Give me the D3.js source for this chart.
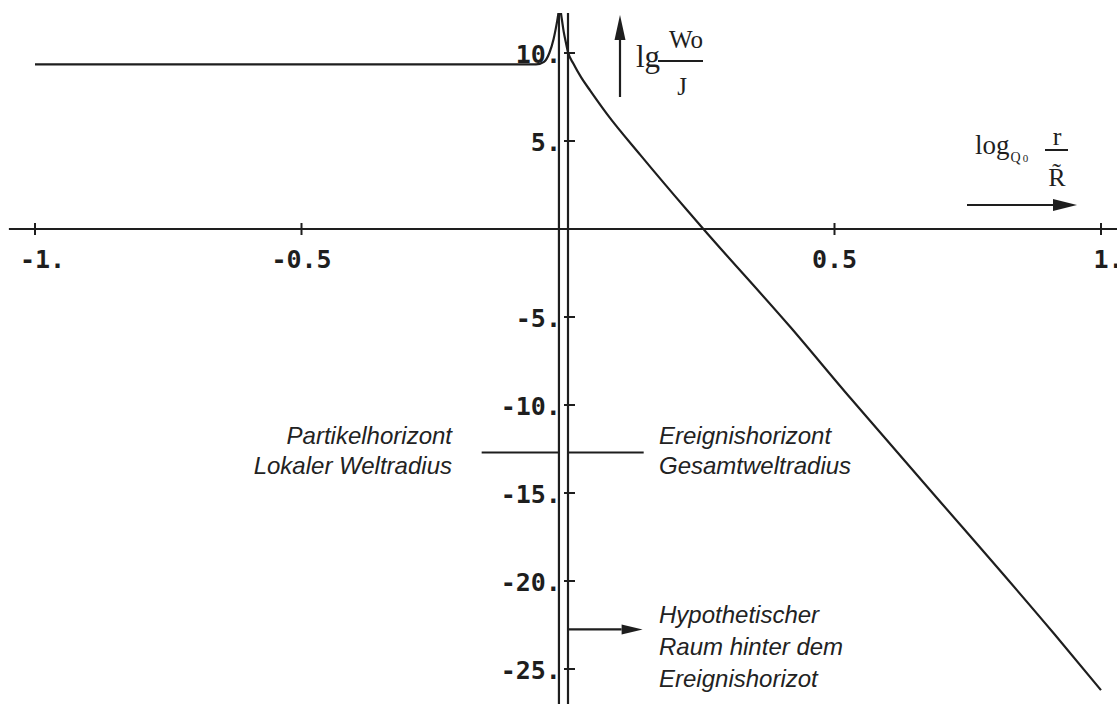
<!DOCTYPE html>
<html>
<head>
<meta charset="utf-8">
<script src="https://cdn.jsdelivr.net/npm/d3@7/dist/d3.min.js"></script>
<style>
  html, body { margin: 0; padding: 0; background: #fff; }
  svg { display: block; }
</style>
</head>
<body>
<svg id="chart" width="1117" height="704"></svg>
<script>
// ---- data ----
const xTicks = [-1, -0.5, 0.5, 1];
const xTickLabels = ["-1.", "-0.5", "0.5", "1."];
const yTicks = [10, 5, -5, -10, -15, -20, -25];
const yTickLabels = ["10.", "5.", "-5.", "-10.", "-15.", "-20.", "-25."];

const curveX = [-1, -0.06, -0.045, -0.035, -0.027, -0.021, -0.017, -0.0155, -0.012, -0.008, -0.004, 0, 0.01, 0.025, 0.042, 0.074, 0.136, 0.224, 0.254, 0.418, 0.531, 0.587, 0.667, 0.912, 1.0];
const curveY = [9.35, 9.35, 9.5, 10.0, 10.8, 11.7, 12.4, 12.6, 12.0, 11.2, 10.6, 10.05, 9.4, 8.6, 7.85, 6.5, 4.2, 1.05, 0.0, -5.6, -9.65, -11.6, -14.4, -23.0, -26.2];

const horizonLeftX = -0.017;     // Partikelhorizont line
const markerY = -12.7;           // horizontal marker level
const markerLeft = [-0.162, -0.017];
const markerRight = [0, 0.142];
const arrowY = -22.75;           // "Hypothetischer Raum" arrow level
const arrowRight = [0, 0.14];

const labelsLeft = ["Partikelhorizont", "Lokaler Weltradius"];
const labelsRight = ["Ereignishorizont", "Gesamtweltradius"];
const labelsHypo = ["Hypothetischer", "Raum hinter dem", "Ereignishorizot"];

// ---- scales ----
const svg = d3.select("#chart");
const x = d3.scaleLinear().domain([-1, 1]).range([35, 1101]);
const y = d3.scaleLinear().domain([0, 10]).range([229, 53]);
const yTop = 12.27, yBottom = -27;
const ink = "#1e1e1e";

svg.append("defs").append("clipPath").attr("id", "plotclip")
  .append("rect").attr("x", 0).attr("y", y(yTop)).attr("width", 1117).attr("height", y(yBottom) - y(yTop));

// ---- x axis ----
svg.append("line").attr("x1", x(-1.049)).attr("x2", 1117).attr("y1", y(0)).attr("y2", y(0))
  .attr("stroke", ink).attr("stroke-width", 2.2);
svg.selectAll(".xt").data(xTicks).enter().append("line")
  .attr("x1", d => x(d)).attr("x2", d => x(d)).attr("y1", y(0) - 6).attr("y2", y(0) + 6)
  .attr("stroke", ink).attr("stroke-width", 2);
svg.selectAll(".xl").data(xTicks).enter().append("text")
  .attr("x", d => x(d)).attr("y", y(0) + 39)
  .attr("dx", (d, i) => xTickLabels[i].endsWith(".") ? "0.3em" : "0")
  .attr("text-anchor", "middle")
  .attr("font-family", "DejaVu Sans Mono").attr("font-weight", "bold").attr("font-size", 25)
  .attr("fill", ink)
  .text((d, i) => xTickLabels[i]);

// ---- y axis (double vertical lines) ----
svg.append("line").attr("x1", x(0)).attr("x2", x(0)).attr("y1", y(yTop)).attr("y2", y(yBottom))
  .attr("stroke", ink).attr("stroke-width", 2.2);
svg.append("line").attr("x1", x(horizonLeftX)).attr("x2", x(horizonLeftX)).attr("y1", y(yTop)).attr("y2", y(yBottom))
  .attr("stroke", ink).attr("stroke-width", 2.2);
svg.selectAll(".yt").data(yTicks).enter().append("line")
  .attr("x1", x(0) - 4).attr("x2", x(0) + 7).attr("y1", d => y(d)).attr("y2", d => y(d))
  .attr("stroke", ink).attr("stroke-width", 2);
svg.selectAll(".yl").data(yTicks).enter().append("text")
  .attr("x", x(horizonLeftX) + 2).attr("y", d => y(d) + 9.5)
  .attr("text-anchor", "end")
  .attr("font-family", "DejaVu Sans Mono").attr("font-weight", "bold").attr("font-size", 25)
  .attr("fill", ink)
  .text((d, i) => yTickLabels[i]);

// ---- curve ----
const pts = curveX.map((v, i) => [v, curveY[i]]);
svg.append("path").datum(pts)
  .attr("clip-path", "url(#plotclip)")
  .attr("fill", "none").attr("stroke", ink).attr("stroke-width", 2.2)
  .attr("d", d3.line().x(d => x(d[0])).y(d => y(d[1])).curve(d3.curveMonotoneX));

// ---- marker lines ----
svg.append("line").attr("x1", x(markerLeft[0])).attr("x2", x(markerLeft[1])).attr("y1", y(markerY)).attr("y2", y(markerY))
  .attr("stroke", ink).attr("stroke-width", 2);
svg.append("line").attr("x1", x(markerRight[0])).attr("x2", x(markerRight[1])).attr("y1", y(markerY)).attr("y2", y(markerY))
  .attr("stroke", ink).attr("stroke-width", 2);

// arrow helper
function arrow(x1, y1, x2, y2, headLen, headHalf) {
  const ang = Math.atan2(y2 - y1, x2 - x1);
  const bx = x2 - headLen * Math.cos(ang), by = y2 - headLen * Math.sin(ang);
  svg.append("line").attr("x1", x1).attr("y1", y1).attr("x2", bx).attr("y2", by)
    .attr("stroke", ink).attr("stroke-width", 2.2);
  const px = -Math.sin(ang) * headHalf, py = Math.cos(ang) * headHalf;
  svg.append("path")
    .attr("d", `M${x2},${y2}L${bx + px},${by + py}L${bx - px},${by - py}Z`)
    .attr("fill", ink);
}
arrow(x(arrowRight[0]), y(arrowY), x(arrowRight[1]), y(arrowY), 21, 5);
arrow(620, 97, 620, 15, 25, 5.5);
arrow(967, 205, 1077, 205, 24, 6);

// ---- italic labels ----
const italic = sel => sel.attr("font-family", "Liberation Sans").attr("font-style", "italic")
  .attr("font-size", 24).attr("fill", "#222");
svg.selectAll(".ll").data(labelsLeft).enter().append("text")
  .attr("x", 452).attr("y", (d, i) => 444 + i * 30).attr("text-anchor", "end")
  .call(italic).text(d => d);
svg.selectAll(".lr").data(labelsRight).enter().append("text")
  .attr("x", 659).attr("y", (d, i) => 444 + i * 30).attr("text-anchor", "start")
  .call(italic).text(d => d);
svg.selectAll(".lh").data(labelsHypo).enter().append("text")
  .attr("x", 659).attr("y", (d, i) => 623 + i * 32).attr("text-anchor", "start")
  .call(italic).text(d => d);

// ---- y-axis label: lg Wo / J ----
const serif = "Liberation Serif";
svg.append("text").attr("x", 636).attr("y", 67).attr("font-family", serif).attr("font-size", 31)
  .attr("fill", ink).text("lg");
svg.append("line").attr("x1", 658).attr("x2", 703).attr("y1", 61).attr("y2", 61).attr("stroke", ink).attr("stroke-width", 2);
svg.append("text").attr("x", 686).attr("y", 48).attr("text-anchor", "middle").attr("font-family", serif)
  .attr("font-size", 25).attr("fill", ink).text("Wo");
svg.append("text").attr("x", 682).attr("y", 95).attr("text-anchor", "middle").attr("font-family", serif)
  .attr("font-size", 25).attr("fill", ink).text("J");

// ---- x-axis label: log_Q0 r / R~ ----
const xl = svg.append("text").attr("x", 975).attr("y", 154).attr("font-family", serif).attr("font-size", 27).attr("fill", ink);
xl.append("tspan").text("log");
xl.append("tspan").attr("font-size", 14).attr("dx", 1).attr("dy", 8).text("Q");
xl.append("tspan").attr("font-size", 11).attr("dx", 2).text("0");
svg.append("line").attr("x1", 1045).attr("x2", 1068).attr("y1", 150).attr("y2", 150).attr("stroke", ink).attr("stroke-width", 2);
svg.append("text").attr("x", 1057).attr("y", 145).attr("text-anchor", "middle").attr("font-family", serif)
  .attr("font-size", 26).attr("fill", ink).text("r");
svg.append("text").attr("x", 1057).attr("y", 186).attr("text-anchor", "middle").attr("font-family", serif)
  .attr("font-size", 26).attr("fill", ink).text("R\u0303");
</script>
</body>
</html>
